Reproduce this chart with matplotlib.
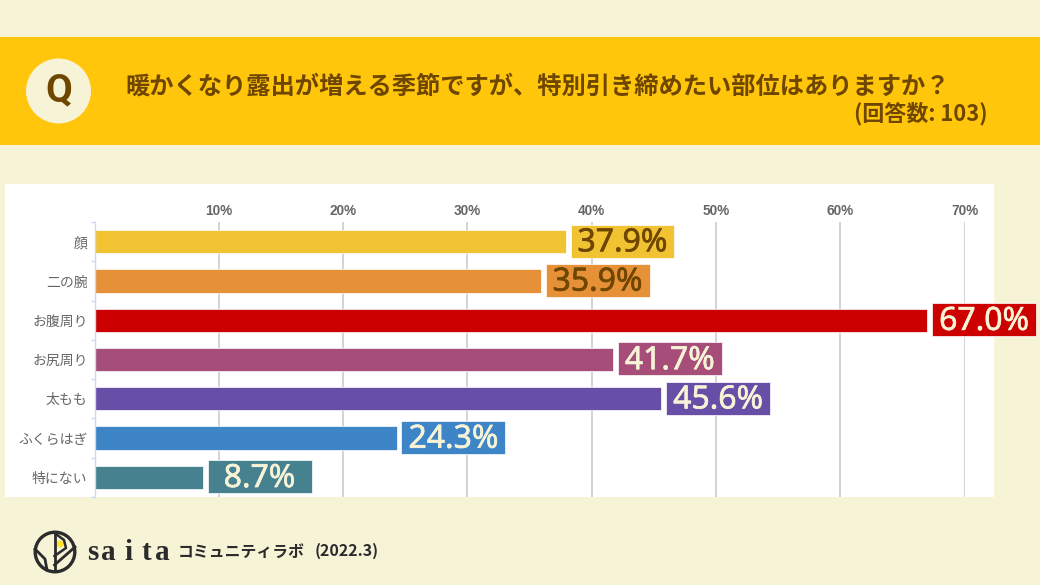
import matplotlib
matplotlib.use('Agg')
import matplotlib.pyplot as plt
import matplotlib.patheffects as pe
from matplotlib.patches import Rectangle, Circle
from matplotlib.ticker import FuncFormatter

plt.rcParams['font.family'] = ['Noto Sans CJK JP', 'DejaVu Sans']

# data
categories = ['顔', '二の腕', 'お腹周り', 'お尻周り', '太もも', 'ふくらはぎ', '特にない']
values = [37.9, 35.9, 67.0, 41.7, 45.6, 24.3, 8.7]
colors = ['#F1C232', '#E69138', '#CC0000', '#A64D79', '#674EA7', '#3D85C6', '#45818E']
label_colors = ['#6F4600', '#6F4600', '#F7F3D7', '#F7F3D7', '#F7F3D7', '#F7F3D7', '#F7F3D7']
x_ticks = [10, 20, 30, 40, 50, 60, 70]

title = '暖かくなり露出が増える季節ですが、特別引き締めたい部位はありますか？'
subtitle = '(回答数: 103)'

W, H = 1040, 585
BG = '#F7F3D7'
BROWN = '#6F4600'

fig = plt.figure(figsize=(W / 100, H / 100), dpi=100, facecolor=BG)

# background layer in pixel coordinates
bg = fig.add_axes([0, 0, 1, 1], zorder=0)
bg.set_xlim(0, W)
bg.set_ylim(H, 0)
bg.axis('off')
bg.add_patch(Rectangle((0, 37), W, 107.5, fc='#FFC60B', ec='none'))
bg.add_patch(Rectangle((5, 183.5), 989, 313.5, fc='white', ec='none'))
bg.add_patch(Circle((58.5, 91), 32.5, fc=BG, ec='none'))
bg.text(58.5, 90.5, 'Q', ha='center', va='center', fontsize=28, fontweight='bold',
        color=BROWN, family=['Roboto', 'DejaVu Sans'])
bg.text(125, 86.5, title, ha='left', va='center', fontsize=17.5, fontweight='bold', color=BROWN)
bg.text(988, 114, subtitle, ha='right', va='center', fontsize=15.8, fontweight='bold', color=BROWN)

# chart
left, right = 94.5, 964.5
top, bottom = 222, 497
ax = fig.add_axes([left / W, 1 - bottom / H, (right - left) / W, (bottom - top) / H],
                  zorder=1, facecolor='none')
ax.set_xlim(0, 70)
ax.set_ylim(len(categories) - 0.5, -0.5)
ax.barh(range(len(categories)), values, height=0.59, color=colors, zorder=2,
        edgecolor='white', linewidth=0.5)
ax.grid(axis='x', color='#CCCCCC', linewidth=1.2, zorder=1)
ax.set_axisbelow(True)
ax.xaxis.tick_top()
ax.set_xticks(x_ticks)
ax.xaxis.set_major_formatter(FuncFormatter(lambda v, p: '%d%%' % v))
ax.tick_params(axis='x', length=0, pad=3, labelsize=9.8, labelcolor='#666666')
for t in ax.get_xticklabels():
    t.set_fontweight('bold')
    t.set_family(['Liberation Sans', 'DejaVu Sans'])
ax.set_yticks(range(len(categories)))
ax.set_yticklabels(categories, fontsize=10, color='#666666')
ax.tick_params(axis='y', length=0, pad=5)
ax.set_yticks([i - 0.5 for i in range(len(categories) + 1)], minor=True)
ax.tick_params(axis='y', which='minor', length=3, color='#C9DAF8', width=1)
for s in ['top', 'right', 'bottom']:
    ax.spines[s].set_visible(False)
ax.spines['left'].set_color('#C9DAF8')
ax.spines['left'].set_linewidth(1)

# value labels: same size box in the bar colour next to each bar
box_w, box_h, gap = 8.36, 0.84, 0.4
for i, v in enumerate(values):
    ax.add_patch(Rectangle((v + gap, i - box_h / 2 - 0.015), box_w, box_h, fc=colors[i], ec='white',
                           lw=0.5, zorder=3, clip_on=False))
    tx = ax.text(v + gap + box_w / 2, i + 0.03, '%.1f%%' % v, ha='center', va='center', fontsize=23,
                 color=label_colors[i], family=['Noto Sans', 'DejaVu Sans'], zorder=4, clip_on=False)
    tx.set_path_effects([pe.withStroke(linewidth=0.45, foreground=label_colors[i])])

# footer logo
INK = '#2B2B2B'
bg.add_patch(Circle((55, 552), 19.8, fc='none', ec=INK, lw=2.4))
bg.plot([54.5, 54.5], [571, 535], color=INK, lw=2)
bg.plot([54.5, 75], [565, 547], color=INK, lw=2)
bg.plot([54.5, 66, 64, 54.5], [556, 548, 540, 533], color=INK, lw=1.8)
bg.plot([35, 45, 47], [549, 559, 570], color=INK, lw=2)
bg.add_patch(Circle((60, 544), 3.6, fc='#FFE233', ec='none', zorder=1))
logo_letters = ['s', 'a', 'i', 't', 'a']
logo_x = [92.5, 108, 128.5, 146.5, 162.5]
for ch, lx in zip(logo_letters, logo_x):
    bg.text(lx, 560, ch, ha='center', va='baseline', fontsize=21, color=INK,
            family=['Liberation Serif', 'DejaVu Sans'], fontweight='bold')
bg.text(178, 552, 'コミュニティラボ', ha='left', va='center', fontsize=11.4, color=INK, fontweight='bold')
bg.text(315, 551, '(2022.3)', ha='left', va='center', fontsize=11.5, color=INK, fontweight='bold')

fig.savefig('out.png', dpi=100, facecolor=BG)
